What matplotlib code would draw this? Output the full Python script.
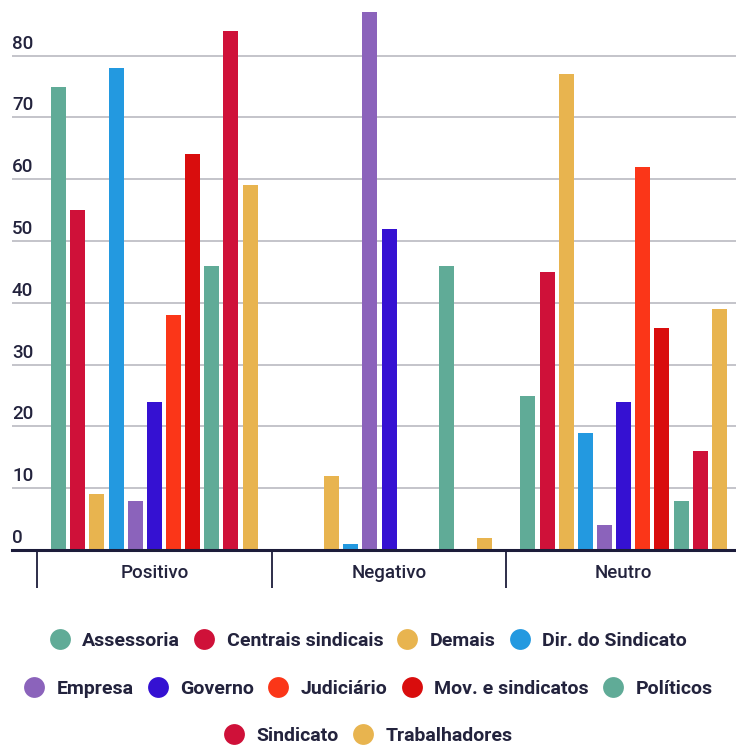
import numpy as np
import matplotlib.pyplot as plt
from matplotlib.lines import Line2D
import matplotlib.transforms as mtransforms

plt.rcParams['font.family'] = ['Roboto', 'DejaVu Sans']

# Data
groups = ['Positivo', 'Negativo', 'Neutro']
series = ['Assessoria', 'Centrais sindicais', 'Demais', 'Dir. do Sindicato',
          'Empresa', 'Governo', 'Judiciário', 'Mov. e sindicatos',
          'Políticos', 'Sindicato', 'Trabalhadores']
assessoria = [75, 0, 25]
centrais = [55, 0, 45]
demais = [9, 12, 77]
dir_sindicato = [78, 1, 19]
empresa = [8, 87, 4]
governo = [24, 52, 24]
judiciario = [38, 0, 62]
mov_sindicatos = [64, 0, 36]
politicos = [46, 46, 8]
sindicato = [84, 0, 16]
trabalhadores = [59, 2, 39]
values = [assessoria, centrais, demais, dir_sindicato, empresa, governo,
          judiciario, mov_sindicatos, politicos, sindicato, trabalhadores]
colors = ['#60ab97', '#cf1139', '#e8b44f', '#2399e0', '#8b63bb', '#3511d2',
          '#fb3618', '#d90d0d', '#60ab97', '#cf1139', '#e8b44f']
yticks = [0, 10, 20, 30, 40, 50, 60, 70, 80]

text_color = '#23233d'

fig = plt.figure(figsize=(7.36, 7.47), dpi=100)
ax = fig.add_axes([12 / 736, 1 - 550 / 747, 1 - 12 / 736, 550 / 747])

x = np.arange(len(groups))
pitch = 0.0816
width = 0.064
n = len(series)
for i, (name, vals, c) in enumerate(zip(series, values, colors)):
    ax.bar(x + (i - (n - 1) / 2) * pitch, vals, width=width, color=c,
           label=name, zorder=3)

ax.set_xlim(-0.607, 2.479)
ax.set_ylim(0, 89)

for s in ['top', 'right', 'left']:
    ax.spines[s].set_visible(False)
ax.spines['bottom'].set_color('#1c1c3a')
ax.spines['bottom'].set_linewidth(2.2)
ax.spines['bottom'].set_zorder(4)

ax.set_yticks(yticks)
ax.set_yticklabels([str(t) for t in yticks])
ax.yaxis.grid(True, color='#b4b4bc', linewidth=1.1, zorder=0)
ax.tick_params(axis='y', length=0, pad=0, labelsize=13.5, labelcolor=text_color)
offset = mtransforms.ScaledTranslation(0, 3 / 100, fig.dpi_scale_trans)
for lab in ax.get_yticklabels():
    lab.set_ha('left')
    lab.set_va('bottom')
    lab.set_fontweight('medium')
    lab.set_transform(lab.get_transform() + offset)

ax.set_xticks(x)
ax.set_xticklabels(groups, fontweight='medium')
ax.tick_params(axis='x', length=0, pad=10, labelsize=13.5, labelcolor=text_color)
ax.set_xticks([-0.5, 0.5, 1.5], minor=True)
ax.tick_params(axis='x', which='minor', length=27, width=1.3, color='#1c1c3a')

# Legend in three centred rows
rows = [series[0:4], series[4:9], series[9:11]]
row_y = [1 - 641 / 747, 1 - 689 / 747, 1 - 736 / 747]
for names, yy in zip(rows, row_y):
    handles = [Line2D([], [], marker='o', ls='', markersize=15,
                      markerfacecolor=colors[series.index(nm)],
                      markeredgewidth=0)
               for nm in names]
    leg = fig.legend(handles, names, loc='center', bbox_to_anchor=(0.5, yy),
                     ncol=len(names), frameon=False, handletextpad=0.6,
                     columnspacing=0.7, handlelength=1.1,
                     prop={'size': 14, 'weight': 'bold'})
    for t in leg.get_texts():
        t.set_color(text_color)

fig.savefig('out.png', dpi=100)
